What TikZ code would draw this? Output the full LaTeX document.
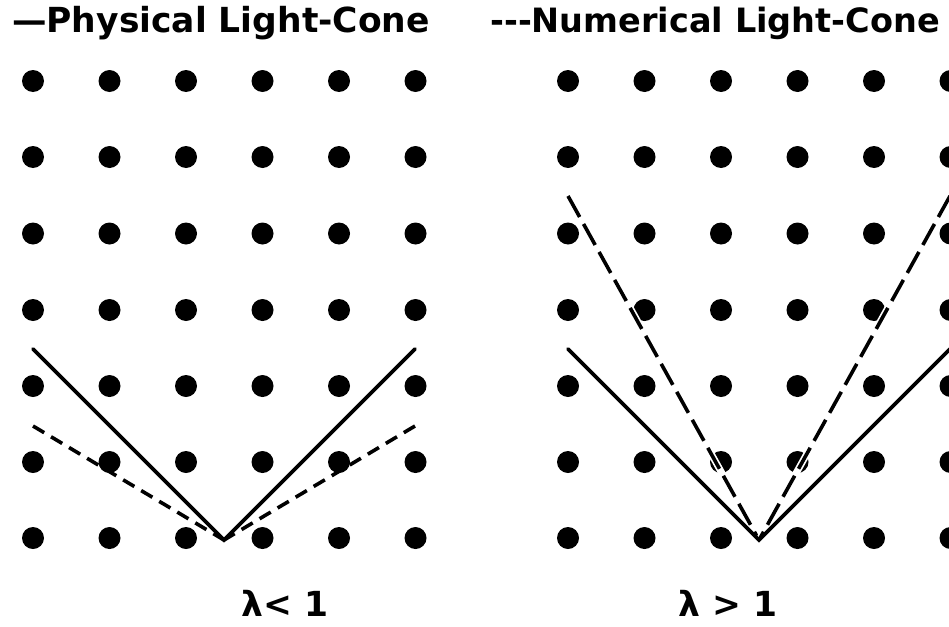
\documentclass[tikz,border=0pt]{standalone}
\usepackage{fontspec}
\setmainfont{DejaVu Sans}
\begin{document}
\begin{tikzpicture}[x=1pt,y=-1pt,
  dot/.style={circle,fill=black,inner sep=0pt,minimum size=22pt},
  physline/.style={line width=3.6pt,line cap=round},
  numlineL/.style={line width=3.6pt,dash pattern=on 13pt off 8pt},
  numlineR/.style={line width=3.6pt,dash pattern=on 24pt off 8pt,
     preaction={draw=white,line width=7pt,solid}},
  lbl/.style={font=\bfseries\fontsize{34.5}{38}\selectfont,inner sep=0pt}]
\useasboundingbox (0,0) rectangle (949,626);
% dots
\foreach \i/\x in {0/33,1/109.5,2/186,3/262.5,4/339,5/415.5}{
  \foreach \j/\y in {0/81,1/157,2/233.5,3/310,4/386,5/462,6/538}{
    \node[dot] (L\i\j) at (\x,\y) {};
  }
}
\foreach \i/\x in {0/568,1/644.5,2/721,3/797.5,4/874,5/950.5}{
  \foreach \j/\y in {0/81,1/157,2/233.5,3/310,4/386,5/462,6/538}{
    \node[dot] (R\i\j) at (\x,\y) {};
  }
}
% left cone
\coordinate (aL) at (224,540);
\coordinate (pL1) at (33,349);
\coordinate (pL2) at (415,349);
\coordinate (nL1) at (33,426);
\coordinate (nL2) at (415,426);
\draw[physline] (pL1) -- (aL) -- (pL2);
\draw[numlineL] (nL1) -- (aL);
\draw[numlineL] (nL2) -- (aL);
% right cone
\coordinate (aR) at (759,540);
\coordinate (pR1) at (568,349);
\coordinate (pR2) at (950,349);
\coordinate (nR1) at (568,196);
\coordinate (nR2) at (950,196);
\draw[numlineR] (nR1) -- (aR);
\draw[numlineR] (nR2) -- (aR);
\draw[physline] (pR1) -- (aR) -- (pR2);
% labels
\node[lbl,anchor=base west] (t1) at (12,33) {—Physical Light-Cone};
\node[lbl,anchor=base west,font=\bfseries\fontsize{33.5}{37}\selectfont] (t2) at (490,33) {-{}-{}-Numerical Light-Cone};
\node[lbl,anchor=base] (l1) at (285,616) {λ< 1};
\node[lbl,anchor=base] (l2) at (728,616) {λ > 1};
\end{tikzpicture}
\end{document}
